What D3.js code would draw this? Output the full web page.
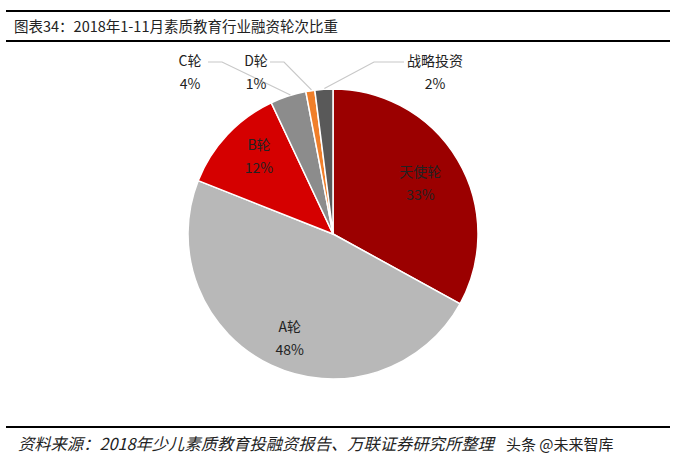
<!DOCTYPE html>
<html><head><meta charset="utf-8">
<script src="https://cdn.jsdelivr.net/npm/d3@7.9.0/dist/d3.min.js"></script>
<style>body{margin:0;background:#fff}text{font-family:"Noto Sans CJK SC",sans-serif}</style>
</head><body>
<svg id="chart" width="676" height="467"></svg>
<script>
const labels = ["天使轮", "A轮", "B轮", "C轮", "D轮", "战略投资"];
const values = [33, 48, 12, 4, 1, 2];
const colors = ["#9b0000", "#b8b8b8", "#d50000", "#8c8c8c", "#f07f2a", "#595959"];
// outside label anchors for small slices
const outside = { "C轮": [190, 66], "D轮": [256, 66], "战略投资": [410, 66] };

const svg = d3.select("#chart");
const cx = 333, cy = 234, r = 145;

svg.append("line").attr("x1", 6).attr("x2", 670).attr("y1", 11).attr("y2", 11).attr("stroke", "#000").attr("stroke-width", 2);
svg.append("line").attr("x1", 6).attr("x2", 670).attr("y1", 41).attr("y2", 41).attr("stroke", "#000").attr("stroke-width", 2);
svg.append("line").attr("x1", 6).attr("x2", 670).attr("y1", 427).attr("y2", 427).attr("stroke", "#000").attr("stroke-width", 2);
svg.append("text").attr("x", 14).attr("y", 32).attr("font-size", 14.5).attr("fill", "#222").text("图表34：2018年1-11月素质教育行业融资轮次比重");
svg.append("text").attr("x", 18).attr("y", 450).attr("font-size", 16.3).attr("font-style", "italic").attr("fill", "#222").text("资料来源：2018年少儿素质教育投融资报告、万联证券研究所整理");
svg.append("text").attr("x", 506).attr("y", 450).attr("font-size", 15).attr("fill", "#222").text("头条 @未来智库");

const g = svg.append("g").attr("transform", `translate(${cx},${cy})`);
const pie = d3.pie().sort(null).value(d => d.v);
const data = pie(labels.map((l, i) => ({ l, v: values[i], c: colors[i] })));
const arc = d3.arc().innerRadius(0).outerRadius(r);
const inArc = d3.arc().innerRadius(r * 0.7).outerRadius(r * 0.7);
const edgeArc = d3.arc().innerRadius(r * 0.95).outerRadius(r * 0.95);
const dy = { "天使轮": -5, "A轮": 6, "B轮": -15 };

g.selectAll("path").data(data).enter().append("path")
  .attr("d", arc).attr("fill", d => d.data.c).attr("stroke", "#fff").attr("stroke-width", 1.5);

data.forEach(d => {
  const o = outside[d.data.l];
  let x, y;
  if (o) {
    x = o[0] - cx; y = o[1] - cy;
    const e = edgeArc.centroid(d);
    const lx = x + (d.data.l === "C轮" ? 18 : 14);
    g.append("polyline")
      .attr("points", d.data.l === "战略投资"
        ? `${x - 6},${y - 4} ${x - 36},${y - 4} ${e[0]},${e[1] - 8}`
        : `${lx},${y - 4} ${lx + 14},${y - 4} ${e[0]},${e[1] - 8}`)
      .attr("fill", "none").attr("stroke", "#c8c8c8").attr("stroke-width", 1.2);
    if (d.data.l === "战略投资") x += 25;
  } else {
    [x, y] = inArc.centroid(d);
    y += dy[d.data.l];
  }
  g.append("text").attr("x", x).attr("y", y).attr("text-anchor", "middle").attr("font-size", 14).attr("fill", "#222").text(d.data.l);
  g.append("text").attr("x", x).attr("y", y + 23).attr("text-anchor", "middle").attr("font-size", 14).attr("fill", "#222").text(d.data.v + "%");
});
</script>
</body></html>
